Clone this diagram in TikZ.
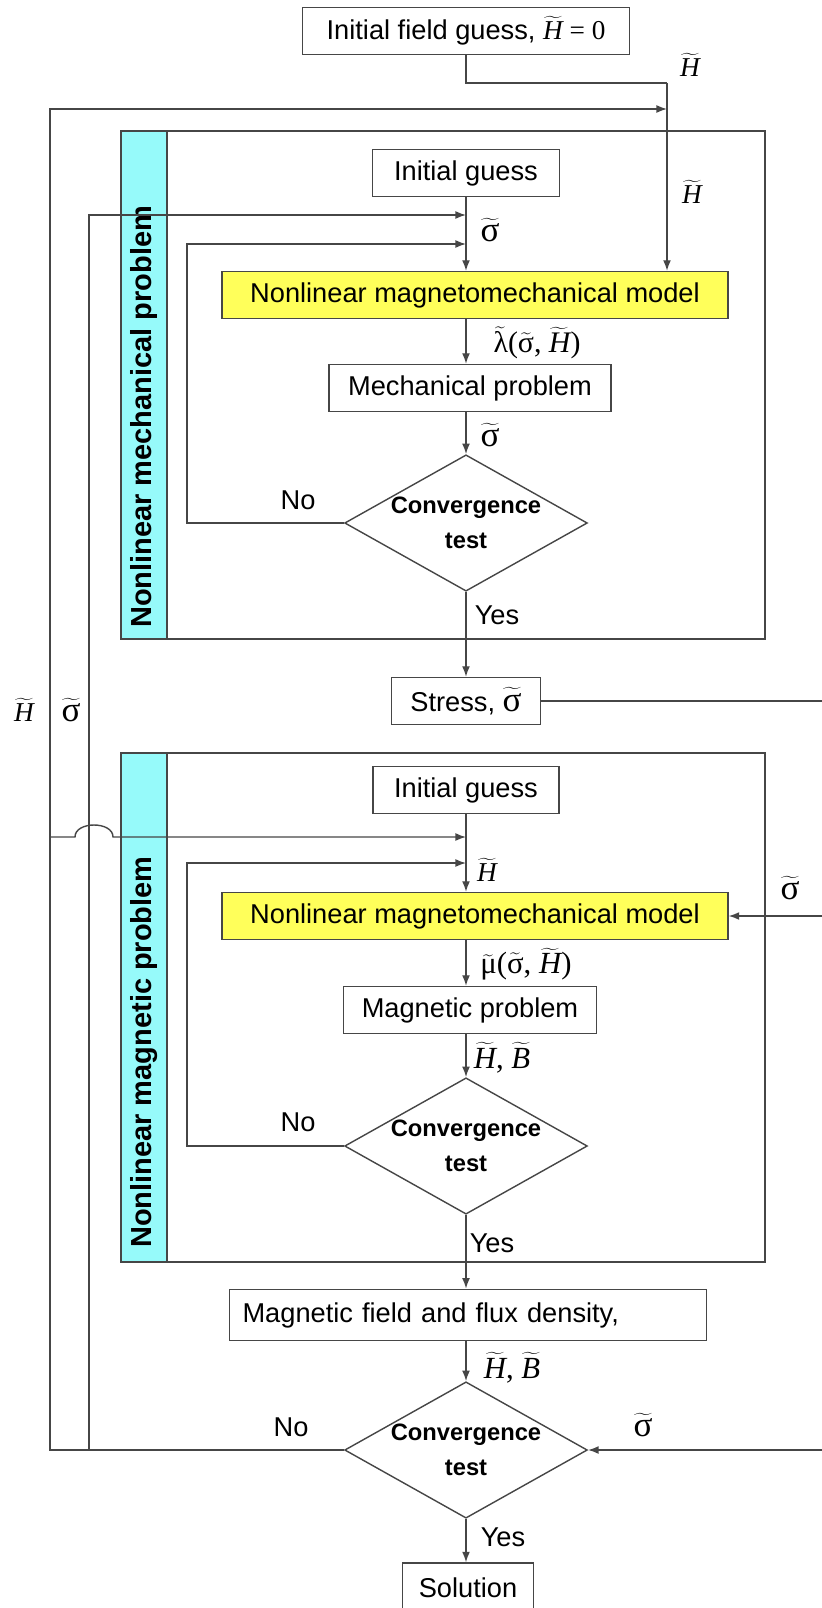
\documentclass[tikz,border=0pt]{standalone}
\usepackage{fontspec}
\setmainfont{Liberation Sans}
\newfontfamily\timesfont{Liberation Serif}
\usetikzlibrary{shapes.geometric,arrows.meta,positioning}

\definecolor{stripcyan}{RGB}{150,250,250}
\definecolor{modelyellow}{RGB}{255,255,90}
\definecolor{linegray}{RGB}{70,70,70}

% tilde quantities
\newcommand{\tH}{\ensuremath{\widetilde{\mbox{\timesfont\itshape H}}}}
\newcommand{\tB}{\ensuremath{\widetilde{\mbox{\timesfont\itshape B}}}}
\newcommand{\tsig}{\ensuremath{\widetilde{\mbox{\timesfont σ}}}}
\newcommand{\tlam}{\ensuremath{\widetilde{\mbox{\timesfont λ}}}}
\newcommand{\tmu}{\ensuremath{\widetilde{\mbox{\timesfont μ}}}}

\tikzset{
  line/.style={draw=linegray, line width=0.8pt},
  arr/.style={line, -{Latex[length=6pt,width=4.5pt]}},
  box/.style={line, rectangle, minimum height=0.94cm, font=\fontsize{15.5}{18}\selectfont},
  modelbox/.style={box, fill=modelyellow, minimum width=10.12cm},
  testbox/.style={line, diamond, aspect=1.78, inner sep=0pt, minimum width=4.82cm,
    minimum height=2.7cm, align=center, font=\bfseries\fontsize{13.5}{20}\selectfont},
  frame/.style={line},
  strip/.style={line, fill=stripcyan},
  striptext/.style={rotate=90, anchor=west, font=\bfseries\fontsize{16.5}{19}\selectfont},
  lbl/.style={inner sep=1pt, font=\fontsize{15.5}{18}\selectfont},
  biglbl/.style={inner sep=1pt, font=\fontsize{20}{24}\selectfont},
  smalllbl/.style={inner sep=1pt, font=\fontsize{17.5}{20}\selectfont}
}

\begin{document}
\begin{tikzpicture}[x=0.02cm, y=-0.02cm]
  \useasboundingbox (0,0) rectangle (821,1608);

  % the two loops
  \draw[frame] (121,131) rectangle (765,639);
  \draw[strip] (121,131) rectangle (167,639);
  \node[striptext] (mechtitle) at (144,634) {Nonlinear mechanical problem};
  \draw[frame] (121,753) rectangle (765,1262);
  \draw[strip] (121,753) rectangle (167,1262);
  \node[striptext] (magtitle) at (144,1254) {Nonlinear magnetic problem};

  \node[box, minimum width=6.54cm] (init) at (466,31) {Initial field guess, {\timesfont\tH\ = 0}};

  \node[box, minimum width=3.74cm] (guess1) at (466,173) {Initial guess};
  \node[modelbox] (model1) at (475,295) {Nonlinear magnetomechanical model};
  \node[box, minimum width=5.64cm] (mech) at (470,388) {Mechanical problem};
  \node[testbox] (test1) at (466,523) {Convergence\\test};
  \node[box, minimum width=2.98cm] (stress) at (466,701) {Stress, {\fontsize{20}{24}\selectfont\tsig}};

  \node[box, minimum width=3.72cm] (guess2) at (466,790) {Initial guess};
  \node[modelbox] (model2) at (475,916) {Nonlinear magnetomechanical model};
  \node[box, minimum width=5.06cm] (magp) at (470,1010) {Magnetic problem};
  \node[testbox] (test2) at (466,1146) {Convergence\\test};

  \node[box, inner sep=0.26cm, text width=9.02cm, align=left] (field) at (468,1315) {Magnetic field and flux density,};
  \node[testbox] (test3) at (466,1450) {Convergence\\test};
  \node[box, minimum width=2.62cm, minimum height=1cm] (sol) at (468,1588) {Solution};

  \coordinate (hfeed) at (667,83);
  \coordinate (hcol) at (50,109);
  \coordinate (scol) at (89,215);
  \coordinate (loop1) at (187,244);
  \coordinate (loop2) at (187,863);
  \coordinate (hin) at (50,837);
  \coordinate (rcol) at (830,701);

  % top field guess
  \draw[line] (init.south) |- (hfeed);
  \draw[arr] (hfeed) -- (model1.north -| hfeed);

  % mechanical loop
  \draw[arr] (guess1) -- (model1.north -| guess1);
  \draw[arr] (model1.south -| guess1) -- (mech.north -| guess1);
  \draw[arr] (mech.south -| test1) -- (test1.north);
  \draw[arr] (test1.west) -| (loop1) -- (loop1 -| guess1);
  \draw[arr] (test1) -- (stress);

  % stress to the right
  \draw[line] (stress.east) -- (rcol) -- (rcol |- test3);
  \draw[arr] (rcol |- model2) -- (model2.east);
  \draw[arr] (rcol |- test3) -- (test3.east);

  % magnetic loop
  \draw[arr] (guess2) -- (model2.north -| guess2);
  \draw[arr] (model2.south -| guess2) -- (magp.north -| guess2);
  \draw[arr] (magp.south -| test2) -- (test2.north);
  \draw[arr] (test2.west) -| (loop2) -- (loop2 -| guess2);
  \draw[arr] (test2) -- (field.north -| test2);
  \draw[arr] (field.south -| test3) -- (test3.north);
  \draw[arr] (test3) -- (sol.north -| test3);

  % outer loop back
  \draw[arr] (test3.west) -| (hcol) -- (hcol -| hfeed);
  \draw[arr] (test3.west -| scol) -- (scol) -- (scol -| guess1);
  \draw[arr] (hin) -- (75,837) .. controls (75,821) and (113,821) .. (113,837) -- (hin -| guess2);

  % labels
  \node[lbl] (hlab1) at (690,65) {\timesfont\tH};
  \node[lbl] (hlab2) at (692,192) {\timesfont\tH};
  \node[biglbl] (slab1) at (490,230) {\tsig};
  \node[font=\fontsize{17}{20}\selectfont, inner sep=1pt] (lamlab) at (537,343) {\timesfont\tlam(\tsig, \tH)};
  \node[biglbl] (slab2) at (490,435) {\tsig};
  \node[lbl] (no1) at (298,500) {No};
  \node[lbl] (yes1) at (497,615) {Yes};
  \node[lbl] (hlab3) at (24,710) {\timesfont\tH};
  \node[biglbl] (slab3) at (71,710) {\tsig};
  \node[lbl] (hlab4) at (487,870) {\timesfont\tH};
  \node[biglbl] (slab4) at (790,888) {\tsig};
  \node[smalllbl] (mulab) at (526,964) {\timesfont\tmu(\tsig, \tH)};
  \node[smalllbl] (hblab1) at (502,1058) {\timesfont\tH, \tB};
  \node[lbl] (no2) at (298,1122) {No};
  \node[lbl] (yes2) at (492,1243) {Yes};
  \node[smalllbl] (hblab2) at (512,1368) {\timesfont\tH, \tB};
  \node[lbl] (no3) at (291,1427) {No};
  \node[biglbl] (slab5) at (643,1425) {\tsig};
  \node[lbl] (yes3) at (503,1537) {Yes};
\end{tikzpicture}
\end{document}
